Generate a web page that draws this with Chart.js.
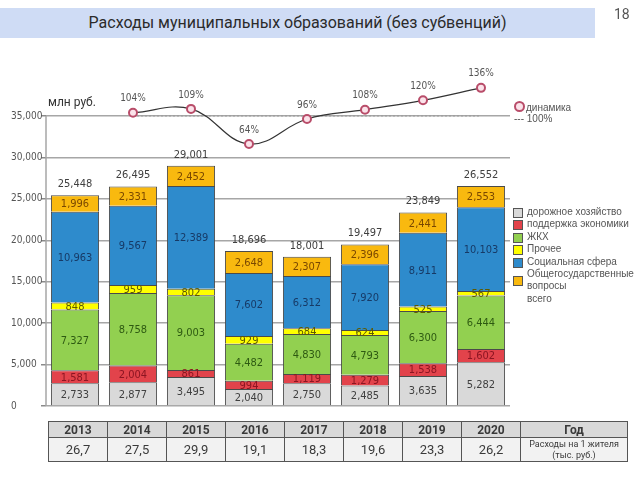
<!DOCTYPE html>
<html>
<head>
<meta charset="utf-8">
<script src="https://cdn.jsdelivr.net/npm/chart.js@4/dist/chart.umd.min.js"></script>
<style>
  body { margin: 0; width: 640px; height: 480px; background: #fff; font-family: Roboto, "Liberation Sans", sans-serif; overflow: hidden; }
  #wrap { position: relative; width: 640px; height: 480px; }
  #chart { position: absolute; left: 0; top: 0; }
  #title { position: absolute; left: 0; top: 8px; width: 595px; height: 30px; background: #cfdcf5; color: #2b2b2b; font-size: 16px; line-height: 30px; text-align: center; }
  #page { position: absolute; left: 614px; top: 6px; font-size: 14px; color: #555; }
  #units { position: absolute; left: 48px; top: 95px; font-size: 12px; color: #333; }
  #legend { position: absolute; left: 512px; top: 206px; font-family: "Liberation Sans", Arial, sans-serif; font-size: 10px; color: #555; }
  #legend div { position: relative; height: 12.4px; line-height: 12.4px; padding-left: 15px; white-space: nowrap; }
  #legend span.box { position: absolute; left: 1px; top: 2px; width: 8px; height: 8px; border: 1px solid #555; }
  #lineLegend { position: absolute; left: 514px; top: 101px; font-family: "Liberation Sans", Arial, sans-serif; font-size: 10px; color: #555; line-height: 11px; }
  #lineLegend .dot { display: inline-block; width: 7px; height: 7px; border: 2px solid #b94d6a; border-radius: 50%; background: #fbe3ea; vertical-align: -1px; margin-right: 1px; }
  table { position: absolute; left: 48px; top: 421px; border-collapse: collapse; font-family: Roboto, sans-serif; color: #3a3a3a; }
  td { border: 1px solid #555; text-align: center; padding: 0; }
  tr.head td { background: #d9d9d9; font-weight: bold; font-size: 12px; height: 15px; line-height: 14px; }
  tr.vals td { background: #f2f2f2; font-size: 13px; height: 23px; line-height: 14px; }
  td.last { width: 106px; }
  td.yr { width: 58px; }
  tr.vals td.last { font-size: 9px; line-height: 11px; }
</style>
</head>
<body>
<div id="wrap">
  <canvas id="chart" width="640" height="480"></canvas>
  <div id="title">Расходы муниципальных образований (без субвенций)</div>
  <div id="page">18</div>
  <div id="units">млн руб.</div>
  <div id="lineLegend"><span class="dot"></span>динамика<br>--- 100%</div>
  <div id="legend"></div>
  <table id="tbl"></table>
</div>
<script>
let years = ['2013', '2014', '2015', '2016', '2017', '2018', '2019', '2020']
let roads = [2733, 2877, 3495, 2040, 2750, 2485, 3635, 5282]
let economy = [1581, 2004, 861, 994, 1119, 1279, 1538, 1602]
let housing = [7327, 8758, 9003, 4482, 4830, 4793, 6300, 6444]
let other = [848, 959, 802, 929, 684, 624, 525, 567]
let social = [10963, 9567, 12389, 7602, 6312, 7920, 8911, 10103]
let general = [1996, 2331, 2452, 2648, 2307, 2396, 2441, 2553]
let totals = [25448, 26495, 29001, 18696, 18001, 19497, 23849, 26552]
let dynamics = [null, 104, 109, 64, 96, 108, 120, 136]
let base100 = [null, 100, 100, 100, 100, 100, 100, 100]
let perCapita = ['26,7', '27,5', '29,9', '19,1', '18,3', '19,6', '23,3', '26,2']
let yTicks = [0, 5000, 10000, 15000, 20000, 25000, 30000, 35000]

let series = [
    { label: 'дорожное хозяйство', data: roads, color: '#d9d9d9', text: '#404040' },
    { label: 'поддержка экономики', data: economy, color: '#e2434b', text: '#8c1522' },
    { label: 'ЖКХ', data: housing, color: '#92d050', text: '#2e5a12' },
    { label: 'Прочее', data: other, color: '#ffff00', text: '#5e5a00' },
    { label: 'Социальная сфера', data: social, color: '#2e8bcc', text: '#173a66' },
    { label: 'Общегосударственные вопросы', data: general, color: '#f9b90f', text: '#7a4800' }
]

// legend and table as html
let legend = document.getElementById('legend')
series.forEach(s => {
    let row = document.createElement('div')
    if (s.label === 'Общегосударственные вопросы') {
        row.style.height = '24.8px'
        row.innerHTML = '<span class="box" style="background:' + s.color + ';top:8px"></span>Общегосударственные<br>вопросы'
    } else {
        row.innerHTML = '<span class="box" style="background:' + s.color + '"></span>' + s.label
    }
    legend.appendChild(row)
})
let totalRow = document.createElement('div')
totalRow.textContent = 'всего'
legend.appendChild(totalRow)

let tbl = document.getElementById('tbl')
tbl.innerHTML = '<tr class="head">' + years.map(y => '<td class="yr">' + y + '</td>').join('') + '<td class="last">Год</td></tr>' +
    '<tr class="vals">' + perCapita.map(v => '<td>' + v + '</td>').join('') + '<td class="last">Расходы на 1 жителя<br>(тыс. руб.)</td></tr>'

let fmt = v => v.toLocaleString('en-US')
let narrow = '"Liberation Sans Narrow", "DejaVu Sans Condensed", Arial, sans-serif'

// y axis line only from 0 to 35,000
let axisPlugin = {
    id: 'axisLine',
    beforeDatasetsDraw(chart) {
        let y = chart.scales.y
        let ctx = chart.ctx
        ctx.save()
        ctx.strokeStyle = '#a6a6a6'
        ctx.lineWidth = 1.5
        ctx.beginPath()
        ctx.moveTo(chart.chartArea.left, y.getPixelForValue(35000))
        ctx.lineTo(chart.chartArea.left, y.getPixelForValue(0))
        ctx.stroke()
        ctx.restore()
    }
}

let labelPlugin = {
    id: 'labels',
    afterDatasetsDraw(chart) {
        let ctx = chart.ctx
        ctx.save()
        ctx.textAlign = 'center'
        ctx.textBaseline = 'middle'
        ctx.font = '11px ' + narrow
        series.forEach((s, i) => {
            chart.getDatasetMeta(i).data.forEach((bar, j) => {
                ctx.fillStyle = s.text
                ctx.fillText(fmt(s.data[j]), bar.x, (bar.y + bar.base) / 2 + 1)
            })
        })
        // totals above the stacks
        let top = chart.getDatasetMeta(series.length - 1).data
        ctx.fillStyle = '#404040'
        top.forEach((bar, j) => ctx.fillText(fmt(totals[j]), bar.x, bar.y - 11))
        // percent labels
        ctx.font = '10px ' + narrow
        ctx.fillStyle = '#555'
        chart.getDatasetMeta(series.length).data.forEach((pt, j) => {
            if (dynamics[j] != null) ctx.fillText(dynamics[j] + '%', pt.x, pt.y - 14)
        })
        ctx.restore()
    }
}

let datasets = series.map(s => ({
    type: 'bar',
    label: s.label,
    data: s.data,
    backgroundColor: s.color,
    borderColor: '#4a4a4a',
    borderWidth: 1,
    barPercentage: 0.83,
    categoryPercentage: 1,
    order: 2
}))
datasets.push({
    type: 'line',
    label: 'динамика',
    data: dynamics,
    yAxisID: 'y2',
    borderColor: '#333',
    borderWidth: 1.2,
    tension: 0.4,
    pointRadius: 4,
    pointBorderWidth: 2,
    pointBorderColor: '#b94d6a',
    pointBackgroundColor: '#fbe3ea',
    order: 0
})
datasets.push({
    type: 'line',
    label: '100%',
    data: base100,
    yAxisID: 'y2',
    borderColor: '#9a9a9a',
    borderWidth: 1,
    borderDash: [2, 2],
    pointRadius: 0,
    order: 1
})

new Chart(document.getElementById('chart'), {
    data: { labels: years, datasets: datasets },
    options: {
        responsive: false,
        animation: false,
        layout: { padding: { left: 11, right: 130, top: 74.6, bottom: 74 } },
        plugins: { legend: { display: false }, tooltip: { enabled: false } },
        scales: {
            x: { stacked: true, display: false },
            y: {
                stacked: true,
                min: 0,
                max: 40000,
                afterBuildTicks: s => { s.ticks = yTicks.map(v => ({ value: v })) },
                afterFit: s => { s.width = 35 },
                ticks: {
                    crossAlign: 'far',
                    color: '#555',
                    font: { size: 10, family: narrow },
                    callback: v => fmt(v)
                },
                grid: { color: '#a6a6a6', lineWidth: 1.5, tickLength: 5, tickColor: '#8a8a8a' },
                border: { display: false }
            },
            // hidden scale for the dynamics line, 100% lands on the 35,000 gridline
            y2: { display: false, stacked: false, min: -272, max: 153 }
        }
    },
    plugins: [axisPlugin, labelPlugin]
})
</script>
</body>
</html>
